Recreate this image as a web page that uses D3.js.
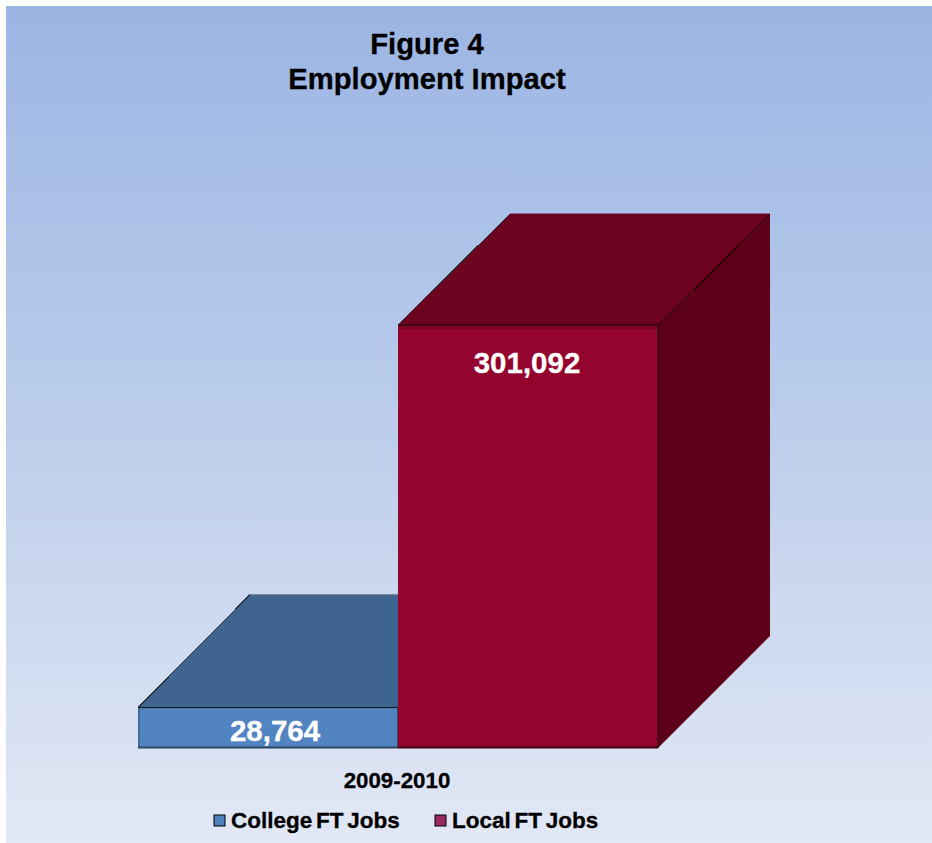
<!DOCTYPE html>
<html><head><meta charset="utf-8">
<script src="https://cdn.jsdelivr.net/npm/d3@7/dist/d3.min.js"></script>
<style>html,body{margin:0;padding:0;background:#fff}svg{display:block}text{font-family:"Liberation Sans",Arial,sans-serif;font-weight:bold}</style>
</head><body><div id="c"></div>
<script>
const categories = ["2009-2010"];
const seriesNames = ["College FT Jobs", "Local FT Jobs"];
const seriesValues = [28764, 301092];
const valueLabels = ["28,764", "301,092"];
const frontColors = ["#5384c2", "#93042e"];
const topColors = ["#3e648f", "#6c0120"];
const sideColors = ["#2b4668", "#5c001a"];
const legendColors = ["#4f81bd", "#9c2a62"];
const titleLines = ["Figure 4", "Employment Impact"];

const W = 932, H = 843, depthX = 112, depthYs = [113, 111];
const svg = d3.select("#c").append("svg").attr("width", W).attr("height", H);
const defs = svg.append("defs");
const g = defs.append("linearGradient").attr("id", "bg").attr("x1", 0).attr("y1", 0).attr("x2", 0).attr("y2", 1);
g.append("stop").attr("offset", 0).attr("stop-color", "#9bb5e3");
g.append("stop").attr("offset", 0.5).attr("stop-color", "#bccdeb");
g.append("stop").attr("offset", 1).attr("stop-color", "#e2e8f5");
svg.append("rect").attr("x", 6).attr("y", 6).attr("width", W - 6).attr("height", H - 6).attr("fill", "url(#bg)");

const x0 = d3.scaleBand().domain(categories).range([138, 658]);
const x1 = d3.scaleBand().domain(seriesNames).range([x0(categories[0]), x0(categories[0]) + x0.bandwidth()]);
const y = d3.scaleLinear().domain([0, 301092]).range([748, 325]);

const bars = seriesNames.map((name, i) => ({
  name, i, v: seriesValues[i], dy: depthYs[i],
  l: x1(name), r: x1(name) + x1.bandwidth(), t: y(seriesValues[i]), b: y(0)
}));
const pts = a => a.map(p => p.join(",")).join(" ");

const gBars = svg.append("g").selectAll("g").data(bars).join("g");
// side
gBars.append("polygon")
  .attr("points", d => pts([[d.r, d.t], [d.r + depthX, d.t - d.dy], [d.r + depthX, d.b - d.dy - 1], [d.r, d.b]]))
  .attr("fill", d => sideColors[d.i]);
// top
gBars.append("polygon")
  .attr("points", d => pts([[d.l, d.t], [d.l + depthX, d.t - d.dy], [d.r + depthX, d.t - d.dy], [d.r, d.t]]))
  .attr("fill", d => topColors[d.i]);
// stair-stepped top edges, as in the reference
gBars.append("line").attr("x1", d => d.l).attr("y1", d => d.t).attr("x2", d => d.l + depthX).attr("y2", d => d.t - d.dy)
  .attr("stroke", "#2a3038").attr("stroke-width", 1).attr("shape-rendering", "crispEdges");
gBars.filter(d => d.i === 1).append("line").attr("x1", d => d.r).attr("y1", d => d.t).attr("x2", d => d.r + depthX).attr("y2", d => d.t - d.dy)
  .attr("stroke", "#1c0208").attr("stroke-width", 1).attr("shape-rendering", "crispEdges");
gBars.append("line").attr("x1", d => d.l + depthX).attr("y1", d => d.t - d.dy).attr("x2", d => d.r + (d.i ? depthX : 0)).attr("y2", d => d.t - d.dy)
  .attr("stroke", d => d.i ? "#6c0120" : "#7f8790").attr("stroke-width", 1);
// front
gBars.append("rect").attr("x", d => d.l).attr("y", d => d.t).attr("width", d => d.r - d.l).attr("height", d => d.b - d.t)
  .attr("fill", d => frontColors[d.i]);
// front highlights
gBars.filter(d => d.i === 1).append("rect").attr("x", d => d.l).attr("y", d => d.t).attr("width", d => d.r - d.l).attr("height", 4).attr("fill", "#7d0327");
gBars.filter(d => d.i === 0).append("rect").attr("x", d => d.l).attr("y", d => d.t).attr("width", 2).attr("height", d => d.b - d.t).attr("fill", "#436c9f");
gBars.append("line").attr("x1", d => d.l).attr("y1", d => d.t).attr("x2", d => d.r).attr("y2", d => d.t)
  .attr("stroke", "#111").attr("stroke-width", 1);
gBars.append("line").attr("x1", d => d.r).attr("y1", d => d.t).attr("x2", d => d.r).attr("y2", d => d.b)
  .attr("stroke", "#111").attr("stroke-width", 1);
gBars.append("line").attr("x1", d => d.l).attr("y1", d => d.b - 0.5).attr("x2", d => d.r).attr("y2", d => d.b - 0.5)
  .attr("stroke", d => d.i ? "#3c0012" : "#2c4666").attr("stroke-width", 2);

// value labels
gBars.append("text").attr("x", d => (d.l + d.r) / 2 + (d.i ? -1 : 7))
  .attr("y", d => d.i ? d.t + 48 : d.t + 33.5)
  .attr("text-anchor", "middle").attr("font-size", 29.5).attr("fill", "#fff")
  .attr("stroke", "#fff").attr("stroke-width", 0.3)
  .text(d => valueLabels[d.i]);

// title
svg.append("g").selectAll("text").data(titleLines).join("text")
  .attr("x", 427).attr("y", (d, i) => 54 + i * 35).attr("text-anchor", "middle")
  .attr("font-size", 29.2).attr("fill", "#000").attr("stroke", "#000").attr("stroke-width", 0.3).text(d => d);

// category axis label
svg.append("text").attr("x", 397).attr("y", 788).attr("text-anchor", "middle")
  .attr("font-size", 22.3).attr("fill", "#000").attr("stroke", "#000").attr("stroke-width", 0.3).text(categories[0]);

// legend
const legendX = [214, 435], legendTextX = [231, 452];
const lg = svg.append("g").selectAll("g").data(seriesNames).join("g");
lg.append("rect").attr("x", (d, i) => legendX[i]).attr("y", 815).attr("width", 11).attr("height", 11)
  .attr("fill", (d, i) => legendColors[i]).attr("stroke", "#000").attr("stroke-width", 1);
lg.append("text").attr("x", (d, i) => legendTextX[i]).attr("y", 828).attr("font-size", 22.5)
  .attr("word-spacing", -2.5)
  .attr("fill", "#000").attr("stroke", "#000").attr("stroke-width", 0.3).text(d => d);
</script></body></html>
